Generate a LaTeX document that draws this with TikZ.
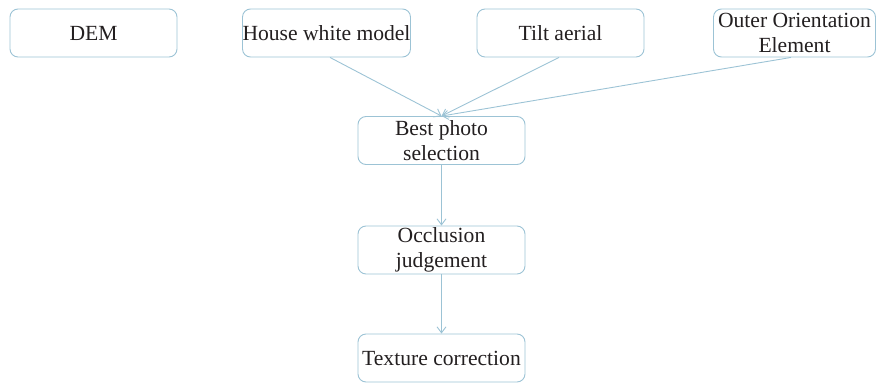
\documentclass[tikz,border=0pt]{standalone}
\usepackage{fontspec}
\setmainfont{Liberation Serif}
\usetikzlibrary{arrows.meta,calc}
\definecolor{edgeblue}{HTML}{9CC3D5}
\definecolor{inkgray}{HTML}{231F20}
\tikzset{
  flowbox/.style={draw=edgeblue, line width=0.9pt, rounded corners=8pt,
    minimum width=167pt, minimum height=48pt, inner sep=0pt,
    align=center, text=inkgray, font=\fontsize{21.6}{24.5}\selectfont},
  flowarrow/.style={draw=edgeblue, line width=0.9pt,
    -{Straight Barb[length=6pt,width=9pt]}}
}
\begin{document}
\begin{tikzpicture}[x=1pt,y=-1pt]
  \useasboundingbox (0,0) rectangle (876,383);
  % input row
  \node[flowbox] (dem)   at (93.5,33)  {DEM};
  \node[flowbox] (house) at (326.5,33) {House white model};
  \node[flowbox] (tilt)  at (560.5,33) {Tilt aerial};
  \node[flowbox, minimum width=162pt] (outer) at (794.5,33) {Outer Orientation\\Element};
  % processing chain
  \node[flowbox] (best)  at (441.5,140.5) {Best photo\\selection};
  \node[flowbox] (occl)  at (441.5,250)   {Occlusion\\judgement};
  \node[flowbox] (tex)   at (441.5,358)   {Texture correction};
  % connectors
  \draw[flowarrow] ($(house.south)+(3.5,0)$) -- (best.north);
  \draw[flowarrow] ($(tilt.south)+(-1.5,0)$) -- (best.north);
  \draw[flowarrow] ($(outer.south)+(-3.5,0)$) -- (best.north);
  \draw[flowarrow] (best) -- (occl);
  \draw[flowarrow] (occl) -- (tex);
\end{tikzpicture}
\end{document}
